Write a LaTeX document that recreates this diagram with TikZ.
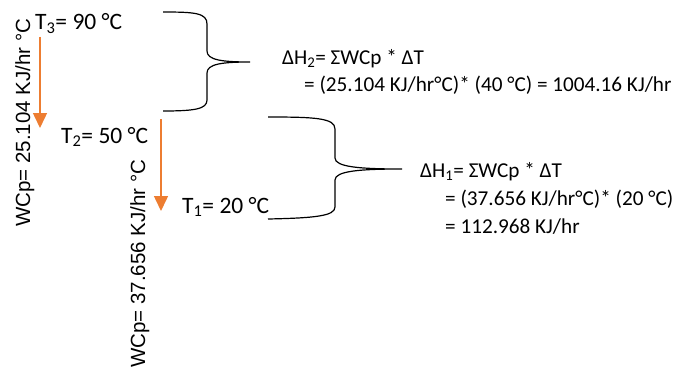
\documentclass[tikz,border=0pt]{standalone}
\usepackage{fontspec}
\setmainfont{Carlito}
\newfontfamily\vfont{Liberation Sans}
\usetikzlibrary{arrows.meta}
\definecolor{flow}{HTML}{ED7D31}
\begin{document}
\begin{tikzpicture}[x=1pt,y=-1pt,
  txt/.style={inner sep=0pt,anchor=base west,font=\fontsize{21.2}{25}\selectfont},
  ttxt/.style={inner sep=0pt,anchor=base west,font=\fontsize{23.5}{28}\selectfont},
  vtxt/.style={inner sep=0pt,anchor=base west,rotate=90,font=\vfont\fontsize{20.5}{24}\selectfont},
  flowarrow/.style={draw=flow,line width=1.5pt,-{Triangle[length=15pt,width=14pt]},fill=flow},
  bracestyle/.style={draw=black,line width=1.2pt}]
\useasboundingbox (0,0) rectangle (674,369);
% temperature labels
\node[ttxt] (t3) at (35,30) {T\textsubscript{3}= 90 °C};
\node[ttxt] (t2) at (61,143) {T\textsubscript{2}= 50 °C};
\node[ttxt] (t1) at (182,213) {T\textsubscript{1}= 20 °C};
% vertical WCp labels
\node[vtxt] (w1) at (30,227) {WCp= 25.104 KJ/hr °C};
\node[vtxt] (w2) at (145,368) {WCp= 37.656 KJ/hr °C};
% arrows
\coordinate (a1s) at (40,37);
\coordinate (a1e) at (40,128);
\coordinate (a2s) at (161,119);
\coordinate (a2e) at (161,211);
\draw[flowarrow] (a1s) -- (a1e);
\draw[flowarrow] (a2s) -- (a2e);
% brace 1
\draw[bracestyle] (163,12) .. controls (195,12) and (207,13) .. (207,24) -- (207,51)
  .. controls (207,60) and (222,62) .. (250,62)
  .. controls (222,62) and (207,64) .. (207,73) -- (207,100)
  .. controls (207,109) and (195,111) .. (163,111);
% brace 2
\draw[bracestyle] (268,117) .. controls (315,117) and (335,118) .. (335,129) -- (335,158)
  .. controls (335,167) and (360,169) .. (402,169)
  .. controls (360,169) and (335,171) .. (335,180) -- (335,207)
  .. controls (335,216) and (315,218) .. (268,219);
% enthalpy text
\node[txt] (h2a) at (282,64) {ΔH\textsubscript{2}= ΣWCp * ΔT};
\node[txt] (h2b) at (304,92) {= (25.104 KJ/hr°C)* (40 °C) = 1004.16 KJ/hr};
\node[txt] (h1a) at (420,177) {ΔH\textsubscript{1}= ΣWCp * ΔT};
\node[txt] (h1b) at (445,205) {= (37.656 KJ/hr°C)* (20 °C)};
\node[txt] (h1c) at (445,233) {= 112.968 KJ/hr};
\end{tikzpicture}
\end{document}
